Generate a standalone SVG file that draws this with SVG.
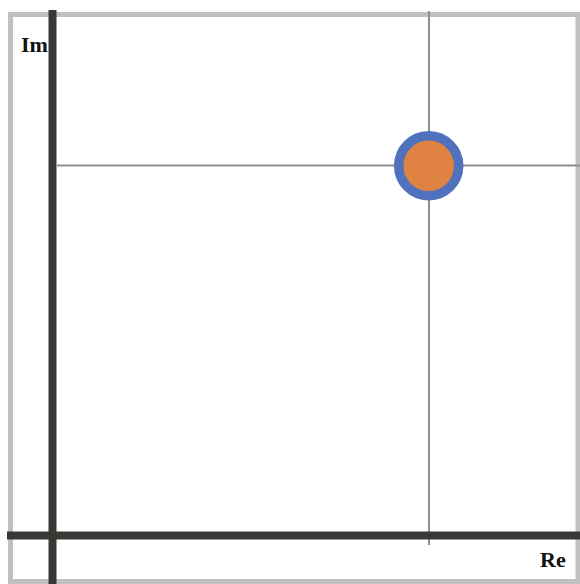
<svg xmlns="http://www.w3.org/2000/svg" width="580" height="584" viewBox="0 0 580 584">
<style>
.lbl{font-family:"Liberation Serif","Times New Roman",serif;font-weight:bold;font-size:22px;fill:#111}
.grid{stroke:#8f8f8f;stroke-width:2}
.axis{stroke:#383834;stroke-width:8}
</style>
<rect x="0" y="0" width="580" height="584" fill="#fff"/>
<rect id="frame" x="10.5" y="14.5" width="567.5" height="567" fill="none" stroke="#c0c0c0" stroke-width="5"/>
<g id="label-im"><text class="lbl" x="21" y="52">Im</text></g>
<g id="label-re"><text class="lbl" x="540" y="567">Re</text></g>
<g id="connectors">
<line class="grid" x1="429" y1="11" x2="429" y2="545"/>
<line class="grid" x1="57" y1="165.5" x2="580" y2="165.5"/>
<line class="axis" x1="52.5" y1="10" x2="52.5" y2="584"/>
<line class="axis" x1="7" y1="535.5" x2="580" y2="535.5"/>
</g>
<g id="point">
<circle cx="428.7" cy="165.8" r="30" fill="#e08242" stroke="#4f71be" stroke-width="9.5"/>
</g>
</svg>
